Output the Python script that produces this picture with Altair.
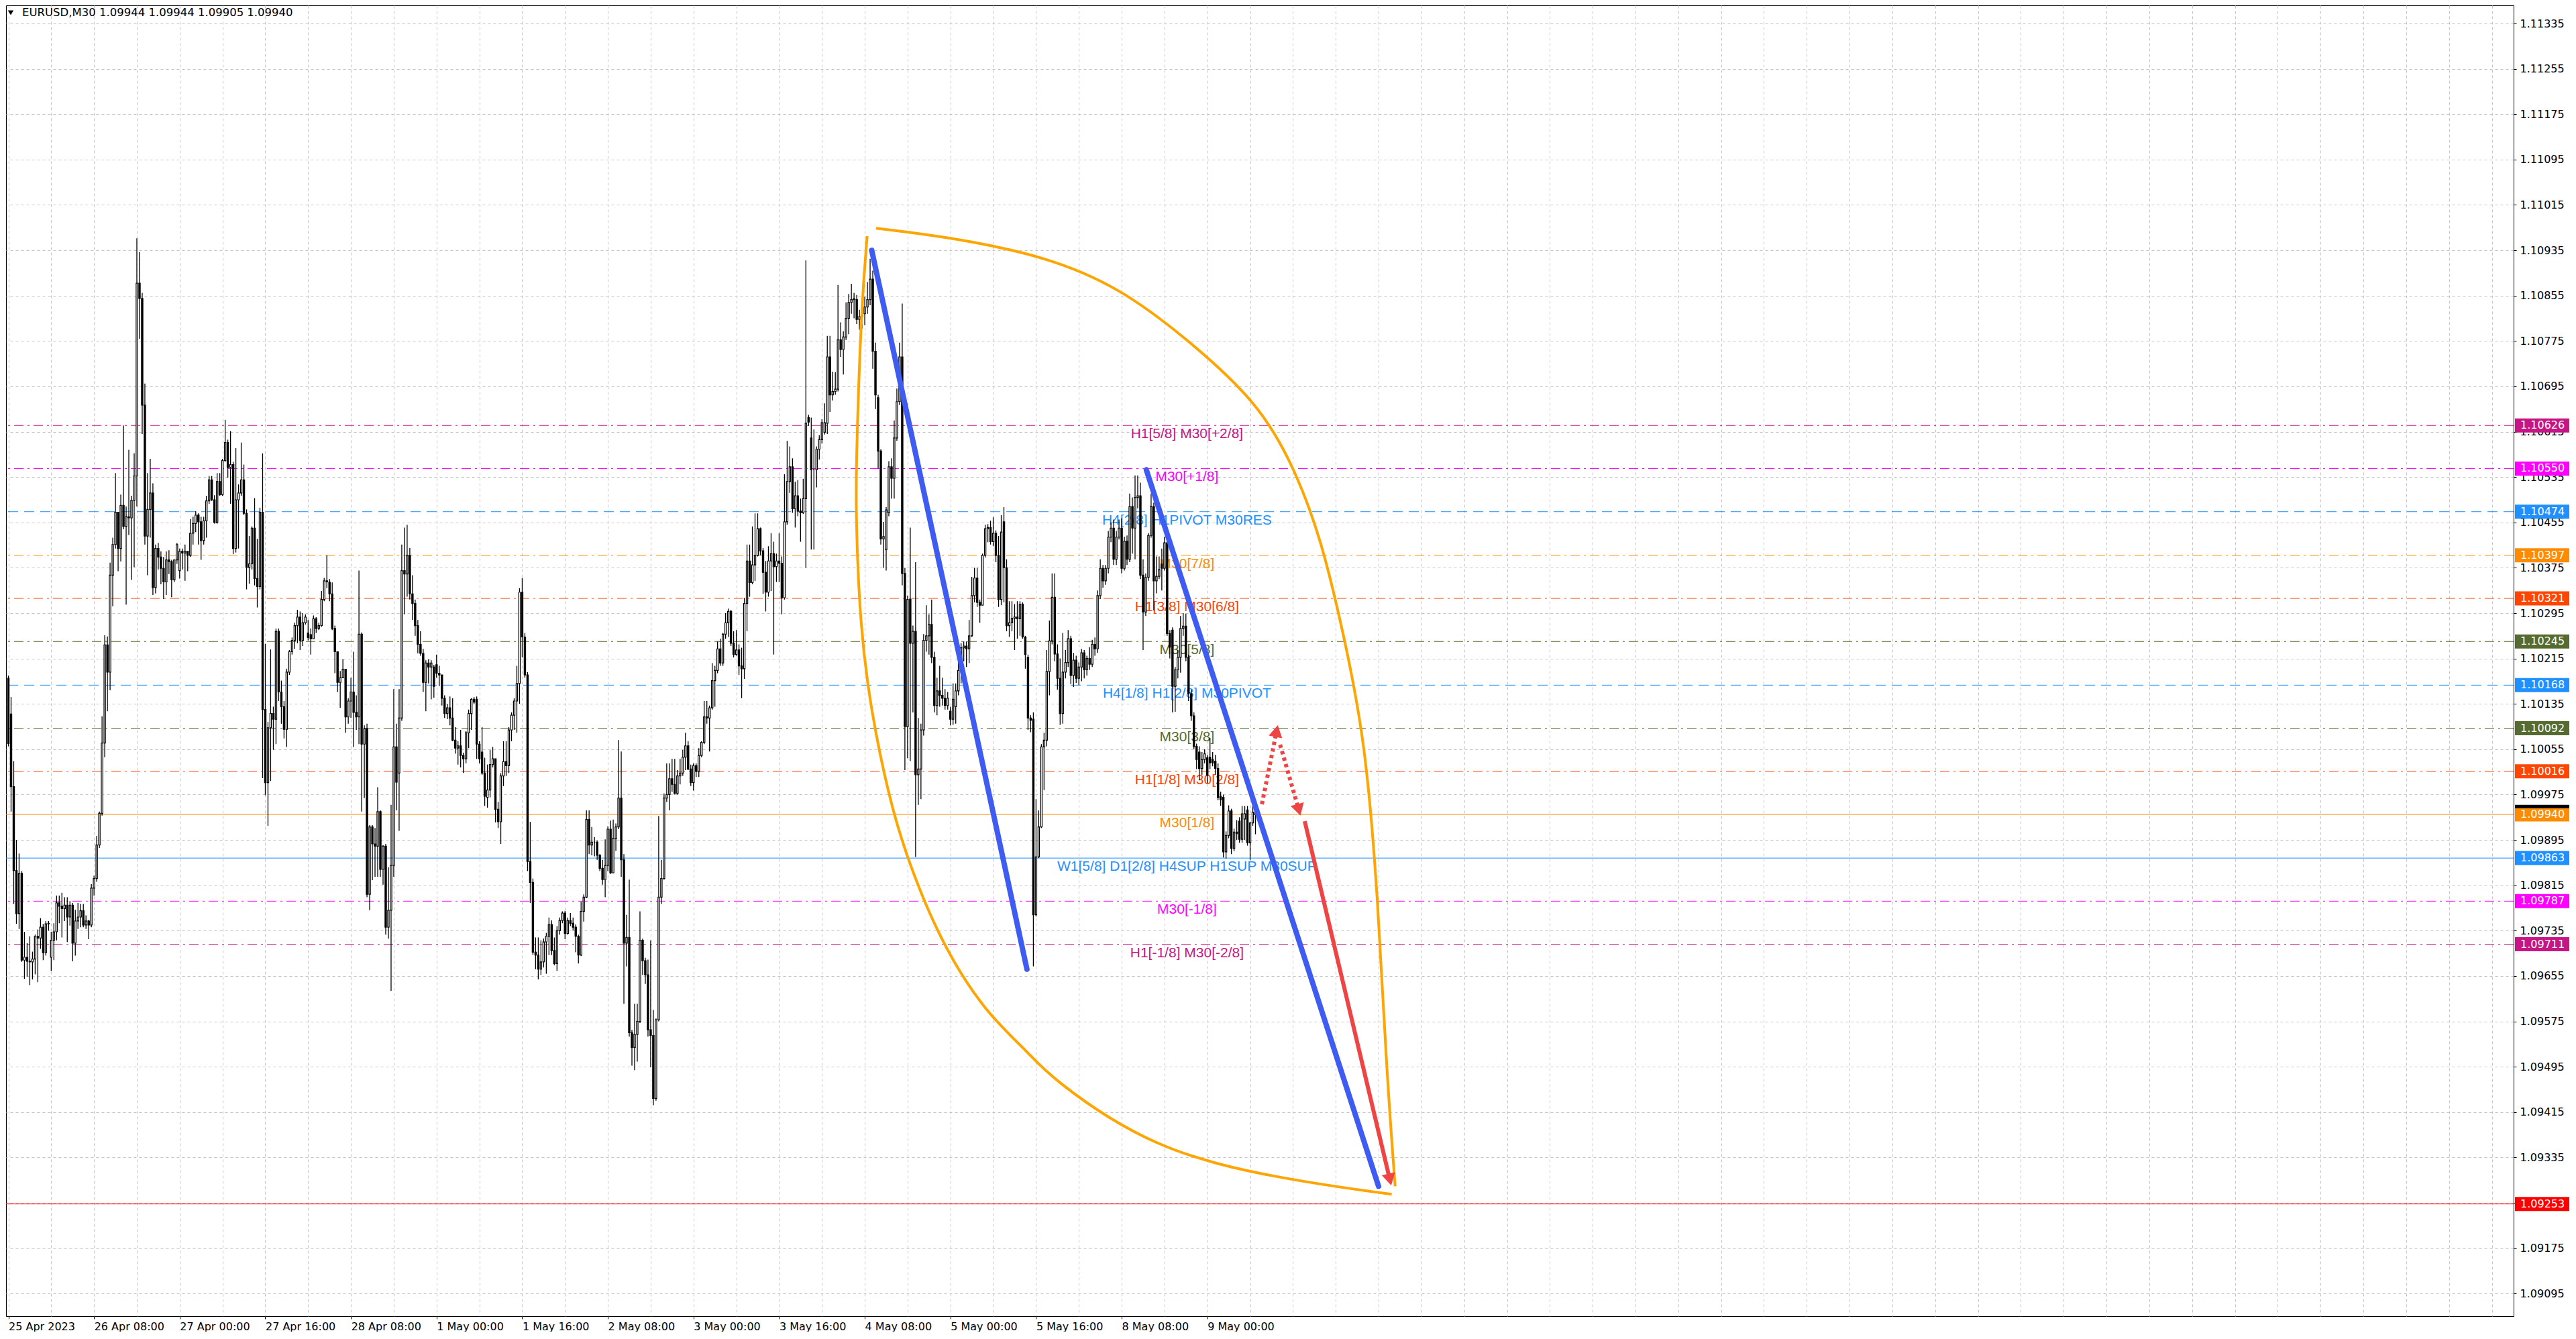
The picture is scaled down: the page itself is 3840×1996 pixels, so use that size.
import altair as alt
import pandas as pd

# Candle prices are stored in points (1e-5) above this base price.
BASE = 1.09

open_pts = [
    1180, 1117, 989, 841, 765, 836, 683, 688, 681, 680,
    685, 725, 722, 741, 696, 747, 688, 718, 733, 784,
    778, 774, 780, 759, 780, 713, 752, 759, 770, 745,
    752, 745, 810, 827, 886, 942, 1066, 1239, 1191, 1362,
    1416, 1473, 1409, 1485, 1448, 1465, 1463, 1494, 1537, 1877,
    1850, 1662, 1431, 1478, 1507, 1340, 1409, 1394, 1374, 1350,
    1389, 1386, 1354, 1389, 1370, 1404, 1401, 1404, 1397, 1436,
    1453, 1468, 1456, 1423, 1458, 1493, 1530, 1495, 1455, 1527,
    1504, 1564, 1596, 1552, 1557, 1409, 1495, 1507, 1530, 1471,
    1376, 1382, 1445, 1356, 1342, 1473, 1125, 996, 1093, 1118,
    1108, 1263, 1156, 1130, 1090, 1191, 1227, 1247, 1273, 1288,
    1247, 1278, 1260, 1257, 1250, 1285, 1268, 1273, 1319, 1352,
    1350, 1329, 1268, 1227, 1173, 1181, 1196, 1112, 1140, 1156,
    1120, 1112, 1258, 1064, 1091, 799, 918, 888, 884, 945,
    843, 884, 741, 771, 850, 1059, 1013, 1110, 1370, 1364,
    1397, 1329, 1312, 1273, 1240, 1224, 1173, 1207, 1200, 1200,
    1204, 1189, 1186, 1145, 1118, 1128, 1110, 1071, 1057, 1061,
    1044, 1038, 1084, 1118, 1143, 1143, 1064, 1050, 1013, 970,
    983, 1028, 1038, 949, 927, 1008, 1033, 1026, 1089, 1115,
    1140, 1171, 1332, 1253, 1186, 857, 820, 697, 692, 667,
    680, 715, 725, 746, 700, 677, 735, 753, 766, 730,
    753, 748, 741, 725, 692, 769, 794, 931, 886, 891,
    891, 868, 845, 825, 850, 914, 837, 898, 918, 969,
    860, 713, 723, 555, 529, 552, 575, 718, 682, 657,
    560, 550, 439, 578, 794, 827, 969, 975, 1003, 993,
    977, 1008, 1013, 1041, 1061, 1020, 996, 1026, 1016, 1044,
    1067, 1112, 1110, 1128, 1176, 1194, 1232, 1207, 1258, 1278,
    1298, 1242, 1222, 1230, 1202, 1197, 1312, 1387, 1349, 1380,
    1397, 1444, 1405, 1367, 1332, 1387, 1400, 1377, 1387, 1383,
    1322, 1456, 1527, 1553, 1479, 1502, 1475, 1472, 1497, 1640,
    1604, 1548, 1548, 1584, 1601, 1614, 1630, 1747, 1680, 1686,
    1690, 1777, 1760, 1782, 1815, 1843, 1848, 1848, 1813, 1820,
    1823, 1835, 1848, 1884, 1757, 1675, 1581, 1426, 1407, 1472,
    1553, 1533, 1604, 1668, 1747, 1365, 1095, 1319, 1242, 1263,
    1010, 1020, 1089, 1247, 1255, 1275, 1217, 1132, 1158, 1150,
    1145, 1132, 1122, 1108, 1130, 1158, 1194, 1234, 1237, 1232,
    1255, 1326, 1357, 1314, 1309, 1397, 1444, 1446, 1421, 1436,
    1397, 1319, 1456, 1375, 1273, 1278, 1286, 1288, 1285, 1311,
    1253, 1217, 1110, 1108, 763, 865, 918, 1059, 1071, 1192,
    1246, 1323, 1223, 1180, 1118, 1191, 1208, 1250, 1185, 1212,
    1180, 1200, 1225, 1195, 1215, 1205, 1240, 1232, 1326, 1374,
    1352, 1374, 1429, 1445, 1390, 1429, 1445, 1374, 1422, 1390,
    1483, 1445, 1499, 1502, 1362, 1297, 1358, 1432, 1483, 1352,
    1360, 1382, 1374, 1419, 1259, 1265, 1166, 1195, 1217, 1268,
    1272, 1217, 1153, 1114, 1060, 1050, 1021, 1037, 1040, 1041,
    1037, 1034, 1021, 972, 970, 874, 903, 946, 880, 909,
    928, 896, 932, 948, 890, 925, 944,
]
high_pts = [
    1185, 1147, 1034, 895, 871, 840, 733, 713, 725, 698,
    728, 737, 757, 747, 752, 752, 733, 748, 797, 797,
    802, 794, 794, 787, 784, 772, 784, 782, 782, 762,
    754, 817, 832, 902, 945, 1113, 1256, 1254, 1384, 1428,
    1542, 1473, 1504, 1626, 1483, 1583, 1502, 1577, 1956, 1932,
    1860, 1700, 1542, 1567, 1524, 1416, 1419, 1404, 1394, 1404,
    1406, 1389, 1389, 1419, 1409, 1409, 1416, 1404, 1461, 1465,
    1475, 1471, 1465, 1465, 1502, 1537, 1537, 1503, 1542, 1542,
    1567, 1636, 1601, 1616, 1562, 1586, 1522, 1596, 1557, 1478,
    1431, 1448, 1498, 1426, 1481, 1577, 1241, 1103, 1231, 1130,
    1268, 1268, 1176, 1140, 1197, 1230, 1252, 1278, 1301, 1298,
    1295, 1293, 1283, 1268, 1291, 1288, 1278, 1334, 1357, 1397,
    1355, 1349, 1273, 1227, 1193, 1214, 1196, 1145, 1181, 1227,
    1150, 1370, 1261, 1097, 1100, 921, 921, 916, 988, 947,
    886, 888, 847, 957, 1161, 1100, 1161, 1416, 1446, 1451,
    1410, 1362, 1319, 1283, 1263, 1232, 1212, 1214, 1212, 1204,
    1222, 1202, 1186, 1150, 1135, 1148, 1145, 1094, 1069, 1089,
    1049, 1087, 1125, 1145, 1147, 1148, 1069, 1094, 1040, 1028,
    1054, 1059, 1038, 962, 1013, 1069, 1069, 1094, 1120, 1145,
    1202, 1339, 1357, 1260, 1191, 927, 827, 723, 723, 718,
    721, 731, 758, 753, 723, 743, 758, 769, 770, 758,
    766, 758, 746, 728, 786, 799, 947, 947, 918, 900,
    894, 870, 860, 896, 919, 929, 931, 924, 1071, 1051,
    870, 763, 825, 560, 606, 606, 769, 721, 687, 684,
    718, 595, 580, 937, 860, 977, 1030, 1030, 1038, 1038,
    1018, 1038, 1054, 1084, 1069, 1028, 1030, 1030, 1057, 1069,
    1140, 1140, 1132, 1207, 1202, 1245, 1250, 1260, 1295, 1303,
    1301, 1263, 1265, 1240, 1234, 1322, 1416, 1416, 1448, 1471,
    1471, 1446, 1410, 1387, 1413, 1436, 1421, 1400, 1436, 1395,
    1540, 1599, 1589, 1568, 1527, 1530, 1497, 1532, 1917, 1645,
    1640, 1619, 1589, 1609, 1637, 1665, 1784, 1784, 1721, 1720,
    1874, 1808, 1792, 1843, 1858, 1876, 1860, 1856, 1830, 1843,
    1853, 1879, 1920, 1899, 1772, 1680, 1584, 1456, 1482, 1563,
    1568, 1635, 1691, 1772, 1841, 1375, 1326, 1446, 1273, 1385,
    1110, 1100, 1258, 1309, 1293, 1319, 1227, 1181, 1202, 1181,
    1161, 1156, 1130, 1171, 1171, 1227, 1242, 1245, 1245, 1283,
    1359, 1375, 1375, 1319, 1400, 1451, 1452, 1458, 1464, 1441,
    1431, 1468, 1482, 1390, 1316, 1316, 1311, 1316, 1316, 1314,
    1255, 1222, 1115, 1120, 967, 947, 1064, 1084, 1230, 1282,
    1365, 1365, 1240, 1215, 1260, 1230, 1265, 1255, 1225, 1220,
    1208, 1232, 1230, 1220, 1235, 1248, 1252, 1335, 1390, 1380,
    1380, 1440, 1455, 1460, 1440, 1460, 1462, 1430, 1432, 1506,
    1499, 1538, 1538, 1525, 1390, 1365, 1436, 1506, 1490, 1395,
    1395, 1409, 1430, 1441, 1265, 1270, 1200, 1230, 1290, 1295,
    1294, 1222, 1160, 1120, 1065, 1060, 1050, 1055, 1045, 1075,
    1050, 1045, 1030, 980, 975, 910, 956, 950, 915, 930,
    935, 955, 955, 955, 925, 960, 944,
]
low_pts = [
    1060, 945, 782, 747, 738, 680, 650, 654, 639, 649,
    658, 644, 703, 683, 691, 735, 664, 683, 718, 748,
    723, 752, 715, 744, 681, 691, 738, 741, 741, 738,
    720, 741, 797, 821, 881, 938, 1041, 1122, 1159, 1307,
    1409, 1369, 1386, 1443, 1310, 1433, 1354, 1376, 1483, 1779,
    1611, 1416, 1362, 1428, 1327, 1330, 1372, 1346, 1320, 1327,
    1364, 1323, 1350, 1382, 1356, 1372, 1352, 1369, 1394, 1416,
    1438, 1416, 1389, 1416, 1428, 1488, 1493, 1453, 1453, 1502,
    1502, 1562, 1534, 1488, 1399, 1402, 1409, 1502, 1468, 1337,
    1347, 1372, 1344, 1305, 1337, 1004, 974, 920, 999, 1054,
    1064, 1140, 1100, 1074, 1059, 1186, 1222, 1232, 1242, 1230,
    1237, 1275, 1247, 1222, 1250, 1260, 1265, 1271, 1316, 1339,
    1316, 1265, 1189, 1156, 1128, 1181, 1084, 1100, 1110, 1059,
    1089, 1064, 945, 969, 794, 771, 824, 830, 830, 830,
    816, 728, 721, 629, 830, 947, 911, 1105, 1293, 1324,
    1319, 1283, 1255, 1224, 1220, 1156, 1122, 1171, 1143, 1146,
    1181, 1166, 1132, 1110, 1108, 1097, 1069, 1047, 1028, 1023,
    1013, 1030, 1057, 1089, 1135, 1038, 1030, 1010, 955, 952,
    970, 1023, 926, 916, 888, 990, 1008, 1013, 1069, 1089,
    1084, 1135, 1217, 1181, 840, 784, 692, 667, 649, 657,
    670, 659, 692, 692, 674, 664, 728, 748, 720, 728,
    743, 735, 697, 677, 690, 751, 792, 870, 868, 866,
    860, 840, 816, 794, 840, 835, 837, 876, 914, 830,
    606, 672, 548, 497, 489, 504, 572, 657, 641, 548,
    494, 427, 435, 575, 782, 825, 962, 947, 980, 975,
    975, 993, 1008, 1018, 1018, 990, 982, 1006, 1006, 1041,
    1064, 1100, 1051, 1125, 1130, 1189, 1202, 1202, 1250, 1253,
    1237, 1217, 1220, 1186, 1145, 1179, 1263, 1324, 1346, 1352,
    1395, 1397, 1329, 1298, 1324, 1334, 1222, 1350, 1350, 1293,
    1319, 1451, 1507, 1472, 1446, 1466, 1421, 1470, 1375, 1625,
    1407, 1407, 1517, 1566, 1594, 1610, 1611, 1650, 1670, 1680,
    1686, 1747, 1716, 1777, 1787, 1823, 1815, 1805, 1795, 1797,
    1803, 1823, 1838, 1726, 1655, 1550, 1416, 1375, 1370, 1466,
    1497, 1497, 1599, 1662, 1344, 1018, 1039, 1034, 1120, 865,
    957, 967, 1079, 1227, 1222, 1207, 1120, 1115, 1130, 1132,
    1125, 1125, 1097, 1098, 1100, 1150, 1171, 1210, 1200, 1207,
    1253, 1314, 1306, 1278, 1309, 1393, 1420, 1416, 1413, 1385,
    1306, 1309, 1314, 1263, 1253, 1263, 1230, 1250, 1255, 1250,
    1197, 1089, 1085, 672, 760, 863, 916, 983, 1060, 1150,
    1240, 1210, 1160, 1098, 1100, 1180, 1200, 1170, 1165, 1172,
    1168, 1175, 1180, 1185, 1195, 1200, 1220, 1225, 1320, 1340,
    1345, 1365, 1420, 1380, 1380, 1425, 1365, 1370, 1380, 1385,
    1400, 1390, 1480, 1355, 1230, 1290, 1352, 1428, 1300, 1330,
    1355, 1335, 1370, 1255, 1215, 1120, 1121, 1180, 1190, 1255,
    1210, 1140, 1105, 1055, 1020, 1000, 1010, 1030, 995, 1020,
    1025, 1010, 965, 955, 864, 862, 898, 870, 875, 895,
    890, 890, 895, 885, 860, 920, 905,
]
close_pts = [
    1065, 989, 841, 765, 836, 683, 688, 681, 680, 685,
    725, 722, 741, 696, 747, 748, 718, 733, 784, 778,
    774, 780, 759, 780, 713, 752, 759, 770, 745, 752,
    745, 810, 827, 886, 942, 1066, 1239, 1191, 1362, 1416,
    1473, 1409, 1485, 1448, 1465, 1463, 1494, 1537, 1877, 1850,
    1662, 1431, 1478, 1507, 1340, 1409, 1394, 1374, 1350, 1389,
    1386, 1354, 1389, 1416, 1404, 1401, 1404, 1397, 1436, 1453,
    1468, 1456, 1423, 1458, 1493, 1530, 1495, 1455, 1527, 1504,
    1564, 1596, 1552, 1557, 1409, 1495, 1507, 1530, 1471, 1376,
    1382, 1445, 1356, 1342, 1473, 1125, 996, 1093, 1118, 1108,
    1263, 1156, 1130, 1090, 1191, 1227, 1247, 1273, 1288, 1247,
    1278, 1288, 1252, 1250, 1285, 1268, 1273, 1319, 1352, 1350,
    1329, 1268, 1227, 1173, 1181, 1196, 1112, 1140, 1156, 1120,
    1112, 1258, 1064, 1091, 799, 918, 888, 884, 945, 843,
    884, 741, 771, 850, 1059, 997, 1110, 1370, 1364, 1397,
    1329, 1312, 1273, 1240, 1224, 1173, 1207, 1200, 1207, 1166,
    1189, 1186, 1145, 1118, 1128, 1110, 1071, 1057, 1061, 1044,
    1038, 1084, 1118, 1143, 1138, 1064, 1038, 1013, 972, 983,
    1028, 1038, 949, 927, 1008, 1033, 1026, 1089, 1115, 1140,
    1171, 1332, 1253, 1186, 857, 820, 697, 692, 667, 680,
    715, 725, 746, 700, 677, 735, 753, 766, 730, 753,
    748, 741, 725, 692, 769, 794, 931, 886, 891, 891,
    868, 845, 825, 850, 914, 837, 898, 918, 969, 860,
    713, 723, 555, 529, 552, 575, 718, 682, 657, 560,
    550, 439, 578, 794, 827, 969, 975, 1003, 993, 977,
    1008, 1013, 1041, 1061, 1020, 996, 1026, 1016, 1044, 1067,
    1112, 1110, 1128, 1176, 1194, 1232, 1207, 1258, 1278, 1298,
    1242, 1222, 1230, 1202, 1197, 1312, 1387, 1349, 1380, 1397,
    1444, 1405, 1367, 1332, 1387, 1400, 1377, 1387, 1383, 1322,
    1456, 1527, 1553, 1479, 1502, 1475, 1472, 1497, 1630, 1632,
    1548, 1548, 1584, 1601, 1631, 1631, 1747, 1680, 1686, 1690,
    1777, 1760, 1782, 1815, 1843, 1848, 1850, 1813, 1818, 1818,
    1835, 1848, 1884, 1757, 1680, 1581, 1426, 1430, 1477, 1553,
    1533, 1604, 1668, 1747, 1365, 1095, 1319, 1242, 1263, 1010,
    1020, 1089, 1247, 1255, 1275, 1217, 1132, 1158, 1150, 1145,
    1132, 1145, 1108, 1143, 1158, 1194, 1234, 1237, 1232, 1255,
    1326, 1357, 1314, 1309, 1397, 1444, 1446, 1421, 1436, 1397,
    1319, 1438, 1375, 1273, 1278, 1286, 1288, 1285, 1311, 1253,
    1222, 1110, 1106, 763, 865, 918, 1059, 1071, 1192, 1246,
    1323, 1223, 1180, 1118, 1191, 1208, 1250, 1185, 1212, 1180,
    1200, 1225, 1195, 1215, 1205, 1240, 1232, 1326, 1374, 1352,
    1374, 1429, 1445, 1390, 1429, 1445, 1374, 1422, 1390, 1483,
    1445, 1499, 1502, 1362, 1297, 1358, 1432, 1483, 1352, 1360,
    1372, 1374, 1419, 1259, 1235, 1166, 1195, 1217, 1268, 1272,
    1217, 1153, 1114, 1060, 1037, 1021, 1037, 1047, 1009, 1031,
    1031, 1021, 970, 966, 874, 903, 946, 880, 909, 906,
    896, 941, 941, 890, 925, 944, 940,
]
assert len(open_pts) == len(high_pts) == len(low_pts) == len(close_pts)

# Time axis: one label every 32 half-hour bars, starting at bar 0.
x_tick_labels = [
    "25 Apr 2023", "26 Apr 08:00", "27 Apr 00:00", "27 Apr 16:00", "28 Apr 08:00",
    "1 May 00:00", "1 May 16:00", "2 May 08:00", "3 May 00:00", "3 May 16:00",
    "4 May 08:00", "5 May 00:00", "5 May 16:00", "8 May 08:00", "9 May 00:00",
]
y_tick_values = [
    1.09095, 1.09175, 1.09255, 1.09335, 1.09415, 1.09495, 1.09575, 1.09655,
    1.09735, 1.09815, 1.09895, 1.09975, 1.10055, 1.10135, 1.10215, 1.10295,
    1.10375, 1.10455, 1.10535, 1.10615, 1.10695, 1.10775, 1.10855, 1.10935,
    1.11015, 1.11095, 1.11175, 1.11255, 1.11335,
]

# Murrey-math style levels
level_prices = [1.10626, 1.10550, 1.10474, 1.10397, 1.10321, 1.10245, 1.10168,
                1.10092, 1.10016, 1.09940, 1.09863, 1.09787, 1.09711, 1.09253]
level_names = ["H1[5/8] M30[+2/8]", "M30[+1/8]", "H4[2/8] H1PIVOT M30RES", "M30[7/8]",
               "H1[3/8] M30[6/8]", "M30[5/8]", "H4[1/8] H1[2/8] M30PIVOT", "M30[3/8]",
               "H1[1/8] M30[2/8]", "M30[1/8]", "W1[5/8] D1[2/8] H4SUP H1SUP M30SUP",
               "M30[-1/8]", "H1[-1/8] M30[-2/8]", ""]
level_colors = ["#C71585", "#FF00FF", "#1E90FF", "#FF8C00", "#FF4500", "#556B2F", "#1E90FF",
                "#556B2F", "#FF4500", "#FF8C00", "#1E90FF", "#FF00FF", "#C71585", "#FF0000"]
level_styles = ["dashdot", "dashdot", "dash", "dashdot", "dashdot", "dashdot", "dash",
                "dashdot", "dashdot", "solid", "solid", "dashdot", "dashdot", "solid"]
label_bar = 440.4
ask_price = 1.09954

# Drawn objects (bar index, price)
orange_left_bar = [320.9, 318.7, 316.9, 316.6, 318.2, 322.4, 329.2, 335.6, 348.1, 364.9, 381.6, 387.9, 427.4, 476.4, 516.9]
orange_left_price = [1.10960, 1.10833, 1.10579, 1.10477, 1.10272, 1.10120, 1.09967, 1.09865, 1.09717,
                     1.09591, 1.09519, 1.09481, 1.09348, 1.09296, 1.09270]
orange_right_bar = [324.2, 352.4, 387.9, 415.2, 439.7, 467.2, 480.7, 490.7, 498.4, 507.1, 511.9, 514.9, 518.2]
orange_right_price = [1.10974, 1.10958, 1.10924, 1.10869, 1.10782, 1.10666, 1.10550, 1.10423,
                      1.10269, 1.10072, 1.09782, 1.09493, 1.09284]
blue_bar = [[322.6, 380.6], [425.2, 512.0]]
blue_price = [[1.10935, 1.09667], [1.10548, 1.09284]]
red_bar = [484.4, 516.2]
red_price = [1.09928, 1.09296]
red_dot_bar = [[468.4, 473.9], [475.2, 482.2]]
red_dot_price = [[1.09958, 1.10087], [1.10063, 1.09948]]
arrow_bar = [516.2, 473.9, 482.2]
arrow_price = [1.09296, 1.10087, 1.09948]
arrow_angle = [166.6, 11.4, 163.9]

# ---------------------------------------------------------------- tables
candles = pd.DataFrame({
    "bar": range(len(open_pts)),
    "open": [BASE + v / 1e5 for v in open_pts],
    "high": [BASE + v / 1e5 for v in high_pts],
    "low": [BASE + v / 1e5 for v in low_pts],
    "close": [BASE + v / 1e5 for v in close_pts],
})
candles["fill"] = ["white" if c >= o else "black" for o, c in zip(candles.open, candles.close)]

levels = pd.DataFrame({"price": level_prices, "name": level_names, "color": level_colors,
                       "style": level_styles, "bar": label_bar})
named_levels = levels[levels.name != ""]

rows = []
for arc, (bs, ps) in enumerate([(orange_left_bar, orange_left_price), (orange_right_bar, orange_right_price)]):
    rows += [{"arc": arc, "seq": i, "bar": b, "price": p} for i, (b, p) in enumerate(zip(bs, ps))]
orange = pd.DataFrame(rows)


def segments(bars, prices):
    out = []
    for s, (bs, ps) in enumerate(zip(bars, prices)):
        out += [{"seg": s, "seq": i, "bar": b, "price": p} for i, (b, p) in enumerate(zip(bs, ps))]
    return pd.DataFrame(out)


blue = segments(blue_bar, blue_price)
red = segments([red_bar], [red_price])
red_dot = segments(red_dot_bar, red_dot_price)
arrows = pd.DataFrame({"bar": arrow_bar, "price": arrow_price, "angle": arrow_angle})

last = candles.iloc[-1]
header = pd.DataFrame({"text": [f"EURUSD,M30  {last.open:.5f} {last.high:.5f} {last.low:.5f} {last.close:.5f}"]})

# ---------------------------------------------------------------- scales/axes
W, H = 3738, 1954
# 4px per bar; offset so 1px wicks land on pixel centres
xscale = alt.Scale(domain=[0.375, 934.875], nice=False, zero=False)
yscale = alt.Scale(domain=[1.09055, 1.11367], nice=False, zero=False)

FONT = "DejaVu Sans"
label_expr = " : ".join(f"datum.value == {32 * i} ? '{t}'" for i, t in enumerate(x_tick_labels)) + " : ''"
last_tick = 32 * (len(x_tick_labels) - 1)

x_axis = alt.Axis(
    values=list(range(0, 935, 16)), labelExpr=label_expr, title=None,
    grid=True, gridDash=[4, 4], gridColor="#C4C4C4", gridWidth=1,
    domain=False, tickSize=4, tickColor="black",
    tickOpacity={"condition": {"test": f"datum.value % 32 == 0 && datum.value <= {last_tick}", "value": 1}, "value": 0},
    labelFont=FONT, labelFontSize=16, labelColor="black", labelAlign="left",
    labelPadding=3, labelOverlap=False, labelFlush=False,
)
y_axis = alt.Axis(
    values=y_tick_values, format=".5f", orient="right", title=None,
    grid=True, gridDash=[4, 4], gridColor="#C4C4C4", gridWidth=1,
    domain=False, tickSize=4, tickColor="black",
    labelFont=FONT, labelFontSize=16, labelColor="black", labelPadding=5,
    labelOverlap=False, labelFlush=False,
)


def X(f="bar:Q"):
    return alt.X(f, scale=xscale, axis=x_axis)


def Y(f="price:Q"):
    return alt.Y(f, scale=yscale, axis=y_axis)


# ---------------------------------------------------------------- layers
wicks = alt.Chart(candles).mark_rule(color="black", strokeWidth=1.3).encode(
    x=X(), y=Y("low:Q"), y2="high:Q",
)
bodies = alt.Chart(candles).mark_bar(size=2.2, stroke="black", strokeWidth=1.2, opacity=1).encode(
    x=X(), y=Y("open:Q"), y2="close:Q", fill=alt.Fill("fill:N", scale=None),
)

level_lines = alt.Chart(levels).mark_rule(strokeWidth=1).encode(
    y=Y(),
    color=alt.Color("color:N", scale=None),
    strokeDash=alt.StrokeDash("style:N", legend=None, scale=alt.Scale(
        domain=["solid", "dash", "dashdot"], range=[[1, 0], [15, 9], [14, 6, 3, 6]])),
)
level_text = alt.Chart(named_levels).mark_text(
    font="Liberation Sans", fontSize=21, align="center", baseline="top", dy=2,
).encode(x=X(), y=Y(), text="name:N", color=alt.Color("color:N", scale=None))

orange_arcs = alt.Chart(orange).mark_line(color="#FFA500", strokeWidth=4, interpolate="basis").encode(
    x=X(), y=Y(), detail="arc:N", order="seq:Q",
)
blue_lines = alt.Chart(blue).mark_line(color="#3F5CF2", strokeWidth=8, strokeCap="round").encode(
    x=X(), y=Y(), detail="seg:N", order="seq:Q",
)
red_line = alt.Chart(red).mark_line(color="#EF4444", strokeWidth=6).encode(
    x=X(), y=Y(), detail="seg:N", order="seq:Q",
)
red_dots = alt.Chart(red_dot).mark_line(color="#EF4444", strokeWidth=6, strokeDash=[5, 5]).encode(
    x=X(), y=Y(), detail="seg:N", order="seq:Q",
)
heads = alt.Chart(arrows).mark_point(shape="triangle-up", filled=True, size=420, color="#EF4444", opacity=1).encode(
    x=X(), y=Y(), angle=alt.Angle("angle:Q", scale=None),
)

tags = alt.Chart(levels).mark_tick(orient="horizontal", size=81, thickness=21, opacity=1).encode(
    x=alt.value(W + 2 + 40.5), y=Y(), color=alt.Color("color:N", scale=None),
)
tag_text = alt.Chart(levels).mark_text(
    font=FONT, fontSize=16, align="left", baseline="middle", color="white",
).encode(x=alt.value(W + 10), y=Y(), text=alt.Text("price:Q", format=".5f"))
ask = alt.Chart(pd.DataFrame({"price": [ask_price]})).mark_tick(
    orient="horizontal", size=81, thickness=5, color="black", opacity=1,
).encode(x=alt.value(W + 2 + 40.5), y=Y())

head_mark = alt.Chart(header).mark_point(shape="triangle-down", filled=True, size=70, color="black", opacity=1).encode(
    x=alt.value(7), y=alt.value(11),
)
head_text = alt.Chart(header).mark_text(
    font=FONT, fontSize=16.5, align="left", baseline="middle", color="black",
).encode(x=alt.value(24), y=alt.value(11), text="text:N")

chart = alt.layer(
    level_lines, level_text, wicks, bodies, orange_arcs, blue_lines,
    red_dots, red_line, heads, tags, tag_text, ask, head_mark, head_text,
).properties(width=W, height=H, padding=0, background="white").configure_view(
    stroke="black", strokeWidth=1,
)

chart.save("out.html", embed_options={"renderer": "svg", "actions": False})
